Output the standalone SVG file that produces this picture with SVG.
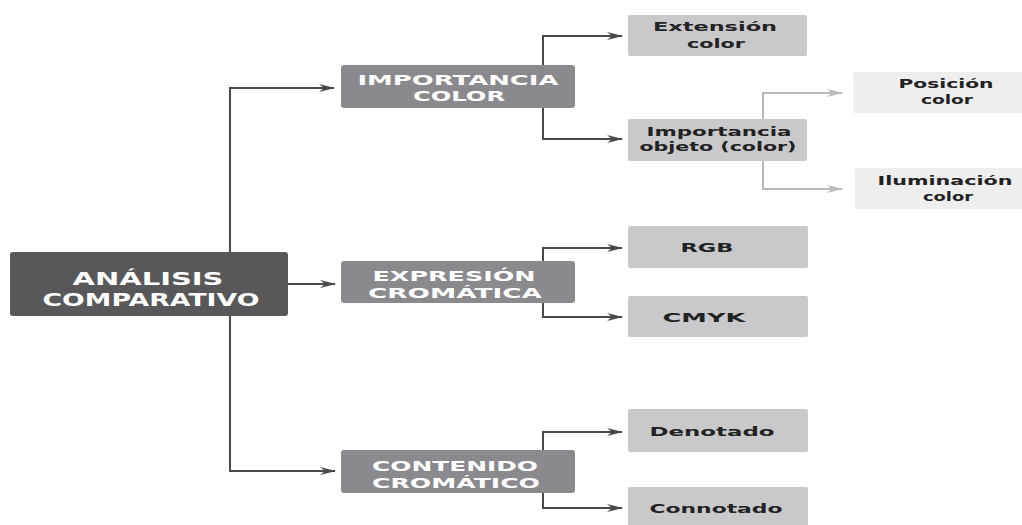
<svg xmlns="http://www.w3.org/2000/svg" width="1022" height="525" viewBox="0 0 1022 525">
<style>
.root{fill:#58585a}
.mid{fill:#8a898d}
.leaf{fill:#c9c9cc}
.light{fill:#eeeeef}
text{font-family:"DejaVu Sans","Liberation Sans",sans-serif;font-weight:bold;text-anchor:middle}
.tr{fill:#ffffff;font-size:18px}
.tm{fill:#ffffff;font-size:14px}
.tl{fill:#222222;font-size:13px}
.c{fill:none;stroke:#4a4a4c;stroke-width:2}
.cl{fill:none;stroke:#b9b9bb;stroke-width:2}
</style>
<defs>
<marker id="ad" markerUnits="userSpaceOnUse" markerWidth="16" markerHeight="10" refX="15" refY="5" orient="auto">
<path d="M0,1 L16,5 L0,9 L5,5 z" fill="#4a4a4c"/>
</marker>
<marker id="al" markerUnits="userSpaceOnUse" markerWidth="16" markerHeight="10" refX="15" refY="5" orient="auto">
<path d="M0,1 L16,5 L0,9 L5,5 z" fill="#b9b9bb"/>
</marker>
</defs>
<rect width="1022" height="525" fill="#ffffff"/>
<g id="connectors">
<path class="c" d="M230,252 V88 H334" marker-end="url(#ad)"/>
<path class="c" d="M288,284 H335" marker-end="url(#ad)"/>
<path class="c" d="M230,316 V471 H335" marker-end="url(#ad)"/>
<path class="c" d="M543,65 V36 H622" marker-end="url(#ad)"/>
<path class="c" d="M543,108 V139 H622" marker-end="url(#ad)"/>
<path class="c" d="M543,261 V248 H622" marker-end="url(#ad)"/>
<path class="c" d="M543,303 V317 H622" marker-end="url(#ad)"/>
<path class="c" d="M543,450 V432 H622" marker-end="url(#ad)"/>
<path class="c" d="M543,493 V508 H622" marker-end="url(#ad)"/>
<path class="cl" d="M763,119 V93 H842" marker-end="url(#al)"/>
<path class="cl" d="M763,161 V189 H842" marker-end="url(#al)"/>
</g>
<g id="analisis">
<rect class="root" x="10" y="252" width="278" height="64" rx="3"/>
<text class="tr" x="148" y="285" textLength="151" lengthAdjust="spacingAndGlyphs">ANÁLISIS</text>
<text class="tr" x="151" y="306" textLength="217" lengthAdjust="spacingAndGlyphs">COMPARATIVO</text>
</g>
<g id="importancia-color">
<rect class="mid" x="341" y="65" width="234" height="43" rx="3"/>
<text class="tm" x="458" y="85" textLength="201" lengthAdjust="spacingAndGlyphs">IMPORTANCIA</text>
<text class="tm" x="459" y="101" textLength="92" lengthAdjust="spacingAndGlyphs">COLOR</text>
</g>
<g id="expresion">
<rect class="mid" x="341" y="261" width="234" height="42" rx="3"/>
<text class="tm" x="454" y="281" textLength="163" lengthAdjust="spacingAndGlyphs">EXPRESIÓN</text>
<text class="tm" x="455" y="298" textLength="174" lengthAdjust="spacingAndGlyphs">CROMÁTICA</text>
</g>
<g id="contenido">
<rect class="mid" x="341" y="450" width="234" height="43" rx="3"/>
<text class="tm" x="455" y="471" textLength="166" lengthAdjust="spacingAndGlyphs">CONTENIDO</text>
<text class="tm" x="456" y="488" textLength="168" lengthAdjust="spacingAndGlyphs">CROMÁTICO</text>
</g>
<g id="extension">
<rect class="leaf" x="628" y="15" width="179" height="41" rx="2"/>
<text class="tl" x="715" y="31" textLength="124" lengthAdjust="spacingAndGlyphs">Extensión</text>
<text class="tl" x="716" y="48" textLength="58" lengthAdjust="spacingAndGlyphs">color</text>
</g>
<g id="importancia-objeto">
<rect class="leaf" x="628" y="119" width="179" height="42" rx="2"/>
<text class="tl" x="719" y="136" textLength="145" lengthAdjust="spacingAndGlyphs">Importancia</text>
<text class="tl" x="718" y="151" textLength="157" lengthAdjust="spacingAndGlyphs">objeto (color)</text>
</g>
<g id="posicion">
<rect class="light" x="853" y="72" width="172" height="41" rx="2"/>
<text class="tl" x="946" y="88" textLength="95" lengthAdjust="spacingAndGlyphs">Posición</text>
<text class="tl" x="947" y="104" textLength="52" lengthAdjust="spacingAndGlyphs">color</text>
</g>
<g id="iluminacion">
<rect class="light" x="855" y="168" width="170" height="41" rx="2"/>
<text class="tl" x="945" y="185" textLength="135" lengthAdjust="spacingAndGlyphs">Iluminación</text>
<text class="tl" x="948" y="201" textLength="50" lengthAdjust="spacingAndGlyphs">color</text>
</g>
<g id="rgb">
<rect class="leaf" x="628" y="226" width="180" height="42" rx="2"/>
<text class="tl" x="707" y="252" textLength="53" lengthAdjust="spacingAndGlyphs">RGB</text>
</g>
<g id="cmyk">
<rect class="leaf" x="628" y="296" width="180" height="41" rx="2"/>
<text class="tl" x="704" y="322" textLength="83" lengthAdjust="spacingAndGlyphs">CMYK</text>
</g>
<g id="denotado">
<rect class="leaf" x="628" y="409" width="180" height="43" rx="2"/>
<text class="tl" x="712" y="436" textLength="125" lengthAdjust="spacingAndGlyphs">Denotado</text>
</g>
<g id="connotado">
<rect class="leaf" x="628" y="487" width="180" height="42" rx="2"/>
<text class="tl" x="716" y="513" textLength="133" lengthAdjust="spacingAndGlyphs">Connotado</text>
</g>
</svg>
